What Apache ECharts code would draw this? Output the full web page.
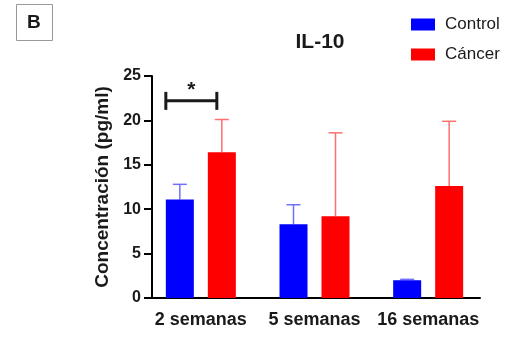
<!DOCTYPE html>
<html>
<head>
<meta charset="utf-8">
<title>IL-10</title>
<style>
  html, body { margin: 0; padding: 0; background: #fff; }
  #chart { width: 523px; height: 339px; }
</style>
</head>
<body>
<div id="chart"></div>
<script src="https://cdn.jsdelivr.net/npm/echarts@6/dist/echarts.min.js"></script>
<script>
var categories = ['2 semanas', '5 semanas', '16 semanas'];
var controlMean = [11.1, 8.3, 2.0];
var controlUpper = [12.8, 10.5, 2.1];
var cancerMean = [16.4, 9.2, 12.6];
var cancerUpper = [20.1, 18.6, 19.9];
var yTicks = [0, 5, 10, 15, 20, 25];
// significance bracket: between the two groups at 2 semanas
var sigIndex = 0;
var sigLevel = 22.2;

var FONT = '"Liberation Sans", Arial, sans-serif';
var INK = '#1a1a1a';
var BAR_W = 28;
var OFFSET = 21; // half of bar width + gap

function errorSeries(name, means, uppers, color, dir) {
  return {
    name: name + ' err',
    type: 'custom',
    z: 1,
    silent: true,
    data: means.map(function (m, i) { return [i, m, uppers[i]]; }),
    renderItem: function (params, api) {
      var base = api.coord([api.value(0), api.value(1)]);
      var top = api.coord([api.value(0), api.value(2)]);
      var x = base[0] + dir * OFFSET;
      return {
        type: 'group',
        children: [
          { type: 'line', shape: { x1: x, y1: base[1], x2: x, y2: top[1] },
            style: { stroke: color, lineWidth: 1.5 } },
          { type: 'line', shape: { x1: x - 7, y1: top[1], x2: x + 7, y2: top[1] },
            style: { stroke: color, lineWidth: 1.5 } }
        ]
      };
    }
  };
}

var yMin = yTicks[0], yMax = yTicks[yTicks.length - 1];

var chart = echarts.init(document.getElementById('chart'));
var option = {
  animation: false,
  textStyle: { fontFamily: FONT },
  title: {
    text: 'IL-10',
    left: 315, top: 27, textAlign: 'center',
    textStyle: { fontFamily: FONT, fontSize: 21, fontWeight: 'bold', color: INK }
  },
  legend: {
    orient: 'vertical',
    left: 406, top: 11,
    itemWidth: 24, itemHeight: 12, itemGap: 13,
    icon: 'rect',
    data: ['Control', 'Cáncer'],
    textStyle: { fontFamily: FONT, fontSize: 17, color: INK, padding: [0, 0, 0, 5] }
  },
  grid: [
    // bars and category ticks
    { left: 144, right: 38, top: 76, bottom: 41 },
    // visible axis frame
    { left: 152, right: 43, top: 76, bottom: 41 }
  ],
  xAxis: [
    {
      type: 'category', gridIndex: 0,
      data: categories,
      axisLine: { show: false },
      axisTick: { alignWithLabel: true, length: 8, lineStyle: { color: '#000', width: 2 } },
      axisLabel: { interval: 0, fontFamily: FONT, fontSize: 18, fontWeight: 'bold', color: INK, margin: 13 }
    },
    {
      type: 'value', gridIndex: 1, min: 0, max: 1,
      axisLine: { show: true, onZero: false, lineStyle: { color: '#000', width: 2 } },
      axisTick: { show: false }, axisLabel: { show: false }, splitLine: { show: false }
    }
  ],
  yAxis: [
    {
      type: 'value', gridIndex: 0, min: yMin, max: yMax,
      show: false
    },
    {
      type: 'value', gridIndex: 1,
      min: yMin, max: yMax, interval: 5,
      name: 'Concentración (pg/ml)',
      nameLocation: 'middle', nameGap: 34, nameRotate: 90,
      nameTextStyle: { fontFamily: FONT, fontSize: 19, fontWeight: 'bold', color: INK },
      axisLine: { show: true, lineStyle: { color: '#000', width: 2 } },
      axisTick: { show: true, length: 8, lineStyle: { color: '#000', width: 2 } },
      axisLabel: { fontFamily: FONT, fontSize: 16, fontWeight: 'bold', color: INK, margin: 11 },
      splitLine: { show: false }
    }
  ],
  series: [
    { name: 'Control', type: 'bar', data: controlMean, barWidth: BAR_W, barGap: '50%',
      itemStyle: { color: '#0000ff' }, z: 2 },
    { name: 'Cáncer', type: 'bar', data: cancerMean, barWidth: BAR_W, barGap: '50%',
      itemStyle: { color: '#ff0000' }, z: 2 },
    errorSeries('Control', controlMean, controlUpper, '#7070ff', -1),
    errorSeries('Cáncer', cancerMean, cancerUpper, '#ff7070', 1),
    {
      name: 'sig',
      type: 'custom',
      silent: true,
      data: [[sigIndex, sigLevel]],
      renderItem: function (params, api) {
        var p = api.coord([api.value(0), api.value(1)]);
        var x1 = p[0] - OFFSET - BAR_W / 2;
        var x2 = p[0] + OFFSET - 5;
        var y = p[1];
        var st = { stroke: INK, lineWidth: 3 };
        return {
          type: 'group',
          children: [
            { type: 'line', shape: { x1: x1, y1: y, x2: x2, y2: y }, style: st },
            { type: 'line', shape: { x1: x1, y1: y - 9, x2: x1, y2: y + 9 }, style: st },
            { type: 'line', shape: { x1: x2, y1: y - 9, x2: x2, y2: y + 9 }, style: st },
            { type: 'text', x: (x1 + x2) / 2, y: y,
              style: { text: '*', fill: INK, fontFamily: FONT, fontSize: 21, fontWeight: 'bold',
                align: 'center', verticalAlign: 'bottom' } }
          ]
        };
      }
    }
  ],
  graphic: [
    { type: 'rect', left: 16, top: 4, shape: { width: 36, height: 36 },
      style: { fill: '#fff', stroke: '#999', lineWidth: 1 } },
    { type: 'text', left: 27, top: 13,
      style: { text: 'B', fill: INK, fontFamily: FONT, fontSize: 19, fontWeight: 'bold' } }
  ]
};
chart.setOption(option);
</script>
</body>
</html>
